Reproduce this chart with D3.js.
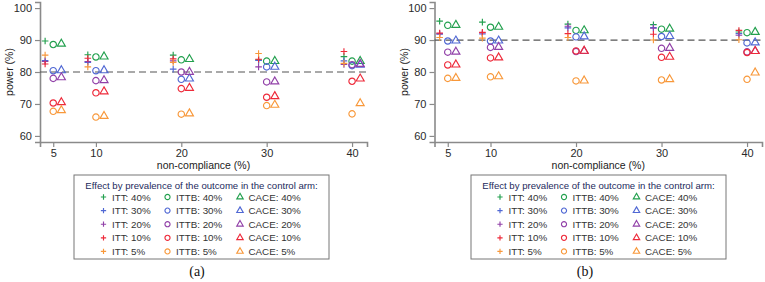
<!DOCTYPE html>
<html>
<head>
<meta charset="utf-8">
<script src="https://cdn.jsdelivr.net/npm/d3@7"></script>
<style>
  body { margin: 0; background: #fff; }
  svg { display: block; font-family: "Liberation Sans", Arial, sans-serif; }
</style>
</head>
<body>
<svg id="chart" width="765" height="282"></svg>
<script>
// categories
const nonCompliance = [5, 10, 20, 30, 40];
const prevalence = ["40%", "30%", "20%", "10%", "5%"];
const methods = ["ITT", "ITTB", "CACE"];
const prevColors = ["#22a04e", "#5068d4", "#9140a8", "#ee2a3a", "#f8983a"];
const yTicks = [60, 70, 80, 90, 100];

// power (%) — panel (a), rows = prevalence 40,30,20,10,5 ; columns = non-compliance
const powerA_ITT = [
    [89.7, 85.4, 85.3, 83.8, 84.8],
    [83.6, 83.0, 80.9, 83.6, 83.5],
    [83.3, 83.3, 83.5, 81.6, 82.4],
    [82.5, 84.3, 84.1, 84.0, 86.4],
    [85.3, 81.6, 83.0, 85.8, 82.7]
];
const powerA_ITTB = [
    [88.6, 84.7, 83.8, 83.4, 83.4],
    [80.4, 80.4, 77.7, 81.6, 82.0],
    [78.0, 77.3, 80.0, 76.9, 82.3],
    [70.3, 73.5, 74.8, 72.1, 77.1],
    [67.7, 65.9, 66.8, 69.5, 66.9]
];
const powerA_CACE = [
    [88.8, 84.8, 84.0, 83.4, 83.4],
    [80.5, 80.5, 77.9, 81.6, 82.2],
    [78.3, 77.4, 80.0, 77.0, 82.5],
    [70.5, 73.9, 75.0, 72.4, 77.9],
    [68.0, 66.2, 67.0, 69.7, 70.2]
];

// power (%) — panel (b)
const powerB_ITT = [
    [95.9, 95.6, 95.0, 94.8, 92.5],
    [91.8, 91.9, 93.8, 93.9, 92.0],
    [92.0, 92.2, 94.3, 93.7, 91.5],
    [92.2, 92.4, 92.0, 91.8, 93.0],
    [90.8, 90.6, 90.8, 90.0, 90.1]
];
const powerB_ITTB = [
    [94.6, 94.0, 93.0, 93.4, 92.3],
    [89.7, 89.7, 91.0, 91.1, 89.1],
    [86.2, 87.7, 86.4, 87.4, 86.3],
    [82.2, 84.4, 86.6, 84.6, 86.1],
    [78.0, 78.5, 77.2, 77.5, 77.7]
];
const powerB_CACE = [
    [94.7, 94.1, 93.0, 93.5, 92.5],
    [89.8, 89.8, 91.1, 91.2, 89.2],
    [86.3, 87.8, 86.5, 87.5, 86.5],
    [82.3, 84.5, 86.6, 84.7, 86.5],
    [78.1, 78.6, 77.3, 77.7, 79.8]
];

const svg = d3.select("#chart");

const plusPath = s => `M${-s},0H${s}M0,${-s}V${s}`;

function drawMarker(g, method, color, x, y, small) {
    const k = small ? 0.8 : 1;
    let d;
    if (method === "ITT") d = plusPath(3.3 * k);
    else if (method === "ITTB") d = d3.symbol(d3.symbolCircle, 32 * k * k)();
    else d = d3.symbol(d3.symbolTriangle, 28 * k * k)();
    g.append("path")
        .attr("d", d)
        .attr("transform", `translate(${x},${y})`)
        .attr("fill", "none")
        .attr("stroke", color)
        .attr("stroke-width", 1.15);
}

function drawPanel(opts) {
    const g = svg.append("g");

    const xScale = d3.scaleLinear([3.45, 41.75], [opts.left, opts.right]);
    const yScale = d3.scaleLinear([58.1, 101.9], [142, 2]);

    const yAxis = d3.axisLeft(yScale).tickValues(yTicks).tickSize(5).tickPadding(3);
    const xAxis = d3.axisBottom(xScale).tickValues(nonCompliance).tickSize(5).tickPadding(2);

    const yAxisG = g.append("g")
        .attr("transform", `translate(${opts.left},0)`)
        .call(yAxis);
    const xAxisG = g.append("g")
        .attr("transform", `translate(0,142)`)
        .call(xAxis);

    [yAxisG, xAxisG].forEach(a => {
        a.select(".domain").attr("stroke", "#8a8a8a").attr("stroke-width", 1.6);
        a.selectAll(".tick line").attr("stroke", "#8a8a8a").attr("stroke-width", 1.2);
        a.selectAll(".tick text")
            .attr("fill", "#2a2a2a")
            .style("font-size", "11px")
            .style("font-family", "Liberation Sans, Arial, sans-serif");
    });

    // reference line
    g.append("line")
        .attr("x1", opts.left)
        .attr("x2", opts.right)
        .attr("y1", yScale(opts.target))
        .attr("y2", yScale(opts.target))
        .attr("stroke", "#555")
        .attr("stroke-width", 1.2)
        .attr("stroke-dasharray", "7,4");

    // axis titles
    g.append("text")
        .attr("transform", `translate(${opts.left - 31},72) rotate(-90)`)
        .attr("text-anchor", "middle")
        .attr("dominant-baseline", "central")
        .attr("fill", "#222")
        .style("font-size", "10.5px")
        .text("power (%)");

    g.append("text")
        .attr("x", (opts.left + opts.right) / 2)
        .attr("y", 165)
        .attr("text-anchor", "middle")
        .attr("dominant-baseline", "central")
        .attr("fill", "#222")
        .style("font-size", "10.5px")
        .text("non-compliance (%)");

    // points: ITT left of tick, ITTB on tick, CACE right of tick
    const offsets = { ITT: -0.95, ITTB: 0, CACE: 0.95 };
    const data = { ITT: opts.itt, ITTB: opts.ittb, CACE: opts.cace };

    methods.forEach(m => {
        data[m].forEach((row, pi) => {
            row.forEach((v, ci) => {
                drawMarker(g, m, prevColors[pi],
                    xScale(nonCompliance[ci] + offsets[m]), yScale(v), false);
            });
        });
    });

    // legend
    const lg = svg.append("g");
    lg.append("rect")
        .attr("x", opts.legX)
        .attr("y", 175)
        .attr("width", opts.legW)
        .attr("height", 84)
        .attr("fill", "#fff")
        .attr("stroke", "#777")
        .attr("stroke-width", 1);

    lg.append("text")
        .attr("x", opts.legX + opts.legW / 2)
        .attr("y", 185)
        .attr("text-anchor", "middle")
        .attr("dominant-baseline", "central")
        .attr("fill", "#1c2a5c")
        .style("font-size", "9.6px")
        .text("Effect by prevalence of the outcome in the control arm:");

    const colX = opts.legCols;
    prevalence.forEach((p, pi) => {
        const y = 197 + pi * 13.6;
        methods.forEach((m, mi) => {
            drawMarker(lg, m, prevColors[pi], colX[mi], y, true);
            lg.append("text")
                .attr("x", colX[mi] + 8.5)
                .attr("y", y)
                .attr("dominant-baseline", "central")
                .attr("fill", "#333")
                .style("font-size", "9.8px")
                .text(`${m}: ${p}`);
        });
    });

    svg.append("text")
        .attr("x", opts.capX)
        .attr("y", 271)
        .attr("text-anchor", "middle")
        .attr("dominant-baseline", "central")
        .attr("fill", "#111")
        .style("font-family", "Liberation Serif, Times New Roman, serif")
        .style("font-size", "14px")
        .text(opts.caption);
}

drawPanel({
    left: 40, right: 367, target: 80,
    itt: powerA_ITT, ittb: powerA_ITTB, cace: powerA_CACE,
    legX: 74, legW: 255, legCols: [103.5, 167.5, 240],
    capX: 197, caption: "(a)"
});

drawPanel({
    left: 434.5, right: 762, target: 90,
    itt: powerB_ITT, ittb: powerB_ITTB, cace: powerB_CACE,
    legX: 471, legW: 255, legCols: [500, 564, 636.5],
    capX: 585, caption: "(b)"
});
</script>
</body>
</html>
